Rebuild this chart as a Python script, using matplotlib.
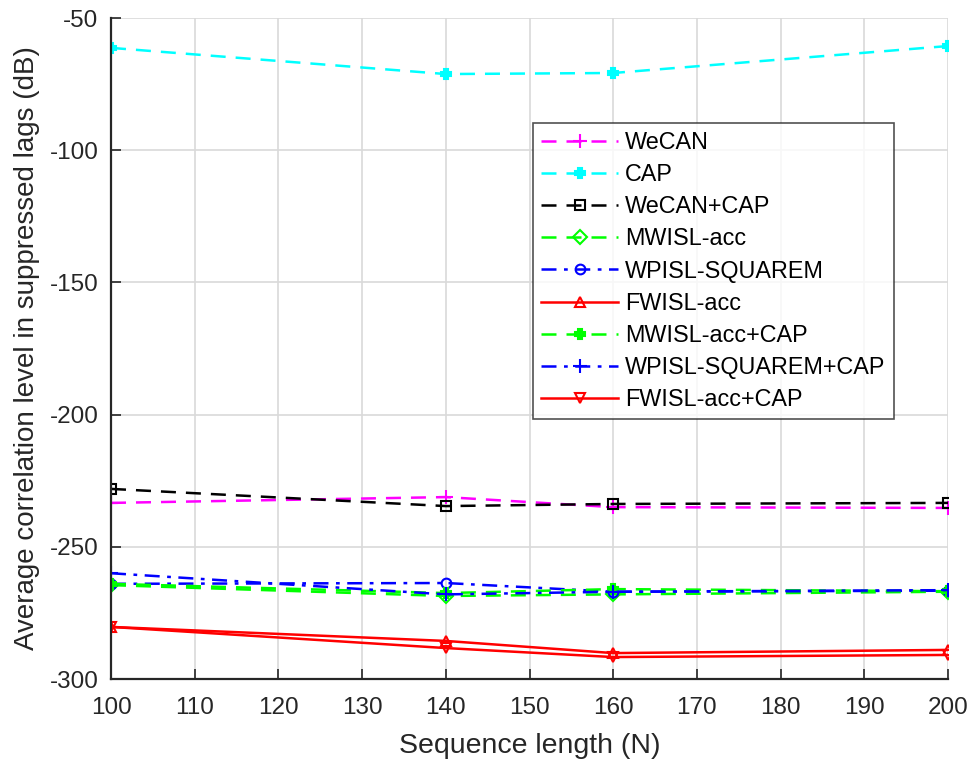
import numpy as np
import matplotlib
matplotlib.use('Agg')
import matplotlib.pyplot as plt

plt.rcParams['font.family'] = ['Liberation Sans', 'DejaVu Sans']
plt.rcParams['axes.unicode_minus'] = False

# sequence lengths
N = [100, 140, 160, 200]

# average correlation level (dB)
wecan = [-233.4, -231.2, -235.0, -235.3]
cap = [-61.3, -71.2, -70.8, -60.6]
wecan_cap = [-228.1, -234.6, -233.8, -233.4]
mwisl = [-264.5, -268.6, -268.0, -267.0]
wpisl = [-264.0, -263.7, -267.0, -266.6]
fwisl = [-280.3, -285.6, -290.2, -289.0]
mwisl_cap = [-264.0, -267.5, -266.0, -266.8]
wpisl_cap = [-260.0, -268.0, -267.0, -266.4]
fwisl_cap = [-280.3, -288.3, -291.7, -290.9]

series = [
    ('WeCAN', wecan, '#ff00ff', (0, (6, 4)), '+', 'full'),
    ('CAP', cap, '#00ffff', (0, (6, 4)), 'P', 'full'),
    ('WeCAN+CAP', wecan_cap, 'black', (0, (6, 4)), 's', 'none'),
    ('MWISL-acc', mwisl, '#00ff00', (0, (6, 4)), 'D', 'none'),
    ('WPISL-SQUAREM', wpisl, '#0000ff', (0, (6, 3, 1.5, 3)), 'o', 'none'),
    ('FWISL-acc', fwisl, '#ff0000', '-', '^', 'none'),
    ('MWISL-acc+CAP', mwisl_cap, '#00ff00', (0, (6, 4)), 'P', 'full'),
    ('WPISL-SQUAREM+CAP', wpisl_cap, '#0000ff', (0, (6, 3, 1.5, 3)), '+', 'full'),
    ('FWISL-acc+CAP', fwisl_cap, '#ff0000', '-', 'v', 'none'),
]

fig = plt.figure(figsize=(9.76, 7.67), dpi=100)
ax = fig.add_axes([111/976, 1 - 679/767, (948-111)/976, (679-18)/767])

for name, vals, col, ls, mk, fill in series:
    ms = 7
    if mk == '+':
        ms = 10
    elif mk == 'P':
        ms = 7.5
    ax.plot(N, vals, color=col, linestyle=ls, linewidth=1.8, marker=mk,
            markersize=ms, fillstyle=fill, markeredgewidth=1.5, label=name)

ax.set_xlim(100, 200)
ax.set_ylim(-300, -50)
ax.set_xticks(np.arange(100, 201, 10))
ax.set_yticks(np.arange(-300, -49, 50))
ax.grid(True, color='#d9d9d9', linewidth=1.2)
ax.set_axisbelow(True)
ax.tick_params(labelsize=17.5, direction='in', length=7, width=1.2, colors='#262626')
ax.tick_params(axis='x', pad=13)
ax.tick_params(axis='y', pad=9)
for s in ['top', 'right']:
    ax.spines[s].set_visible(False)
for s in ['left', 'bottom']:
    ax.spines[s].set_color('#262626')
    ax.spines[s].set_linewidth(1.6)

ax.set_xlabel('Sequence length (N)', fontsize=20.5, color='#262626', labelpad=10)
ax.set_ylabel('Average correlation level in suppressed lags (dB)', fontsize=20,
              color='#262626', labelpad=7)

leg = ax.legend(loc='upper left', bbox_to_anchor=((533-111)/837, (679-123)/661),
                fontsize=16.8, frameon=True, fancybox=False, edgecolor='#262626',
                handlelength=3.3, handletextpad=0.3, borderpad=0.35,
                labelspacing=0.39, borderaxespad=0)
leg.get_frame().set_linewidth(1.2)

fig.savefig('out.png', dpi=100)
